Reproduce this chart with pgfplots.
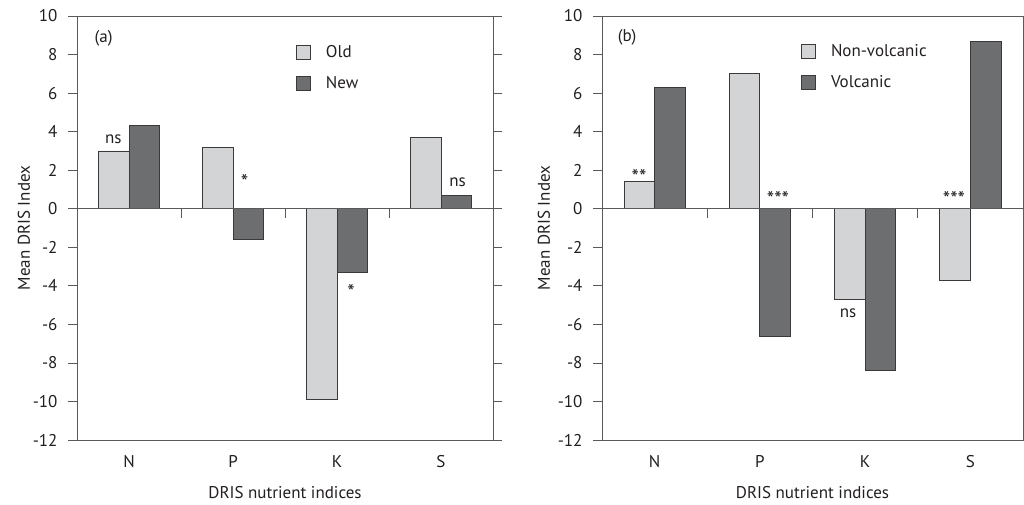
\documentclass[border=0pt]{standalone}
\usepackage{fontspec}
\setmainfont{PT Sans}
\usepackage{pgfplots}
\pgfplotsset{compat=1.18}

\definecolor{barlight}{HTML}{D3D4D6}
\definecolor{bardark}{HTML}{6D6E70}
\definecolor{edge}{HTML}{3A3A3C}
\definecolor{frame}{HTML}{58595B}
\definecolor{ink}{HTML}{231F20}

\newcommand{\lbl}{\fontsize{17}{20}\selectfont}
\newcommand{\sig}{\fontsize{21}{24}\selectfont}

\pgfplotsset{
  dris/.style={
    scale only axis, height=424pt,
    ymin=-12, ymax=10,
    xmin=-0.5, xmax=3.5,
    ytick={-12,-10,...,10},
    yticklabels={-12,-10,-8,-6,-4,-2,0,2,4,6,8,10},
    xtick={0,1,2,3},
    xticklabels={N,P,K,S},
    tick align=outside,
    major tick length=9pt,
    xtick style={draw=none},
    ytick style={draw=frame, line width=0.8pt},
    axis line style={draw=frame, line width=0.9pt},
    tick label style={font=\lbl, text=ink},
    label style={font=\lbl, text=ink},
    yticklabel style={xshift=-7pt},
    xticklabel style={anchor=north, yshift=-3pt},
    xlabel style={at={(axis description cs:0.5,0)}, anchor=center, yshift=-53pt},
    ybar=0pt, bar width=0.29,
    legend cell align=left,
    legend image code/.code={\draw[#1, line width=0.8pt] (0pt,-7pt) rectangle (14pt,7pt);},
    legend style={draw=none, fill=none, anchor=north west, inner sep=0pt,
      row sep=16pt, column sep=15pt, font=\lbl, text=ink,
      nodes={inner sep=0pt}},
    clip=false,
  },
  lightbar/.style={fill=barlight, draw=edge, line width=0.8pt},
  darkbar/.style={fill=bardark, draw=edge, line width=0.8pt},
}

% zero line with the short separators hanging below it
\newcommand{\zeroline}{%
  \draw[frame, line width=0.8pt] (axis cs:-0.5,0) -- (axis cs:3.5,0);
  \draw[frame, line width=0.8pt] (axis cs:0.5,0) -- ++(0pt,-9pt);
  \draw[frame, line width=0.8pt] (axis cs:1.5,0) -- ++(0pt,-9pt);
  \draw[frame, line width=0.8pt] (axis cs:2.5,0) -- ++(0pt,-9pt);
}

\begin{document}
\begin{tikzpicture}[x=1pt,y=1pt]
\useasboundingbox (0,0) rectangle (1024,505);

% (a) old versus new
\begin{axis}[dris, width=416pt, at={(77pt,65pt)}, anchor=south west,
  xlabel={DRIS nutrient indices}, ylabel={Mean DRIS Index},
  ylabel style={at={(axis description cs:-0.1274,0.5)}, anchor=center},
  legend style={at={(0.5264,0.9316)}}]
\addplot[lightbar] coordinates {(0,3.0) (1,3.2) (2,-9.9) (3,3.7)};
\addplot[darkbar] coordinates {(0,4.3) (1,-1.6) (2,-3.3) (3,0.7)};
\legend{Old, New}
\zeroline
\node[font=\lbl, text=ink, anchor=west] at (axis description cs:0.034,0.948) {(a)};
\node[font=\lbl, text=ink, anchor=base] at (axis cs:-0.15,3.37) {ns};
\node[font=\sig, text=ink, anchor=north] at (axis cs:1.11,1.95) {*};
\node[font=\lbl, text=ink, anchor=base] at (axis cs:3.16,1.16) {ns};
\node[font=\sig, text=ink, anchor=north] at (axis cs:2.135,-3.75) {*};
\end{axis}

% (b) non-volcanic versus volcanic
\begin{axis}[dris, width=421pt, at={(602pt,65pt)}, anchor=south west,
  xlabel={DRIS nutrient indices}, ylabel={Mean DRIS Index},
  ylabel style={at={(axis description cs:-0.1378,0.5)}, anchor=center},
  legend style={at={(0.4727,0.934)}}]
\addplot[lightbar] coordinates {(0,1.4) (1,7.0) (2,-4.7) (3,-3.7)};
\addplot[darkbar] coordinates {(0,6.3) (1,-6.6) (2,-8.4) (3,8.7)};
\legend{Non-volcanic, Volcanic}
\zeroline
\node[font=\lbl, text=ink, anchor=west] at (axis description cs:0.029,0.95) {(b)};
\node[font=\sig, text=ink, anchor=north] at (axis cs:-0.148,2.2) {**};
\node[font=\sig, text=ink, anchor=north] at (axis cs:1.172,1.09) {***};
\node[font=\lbl, text=ink, anchor=base] at (axis cs:1.837,-5.65) {ns};
\node[font=\sig, text=ink, anchor=north] at (axis cs:2.844,1.09) {***};
\end{axis}
\end{tikzpicture}
\end{document}
